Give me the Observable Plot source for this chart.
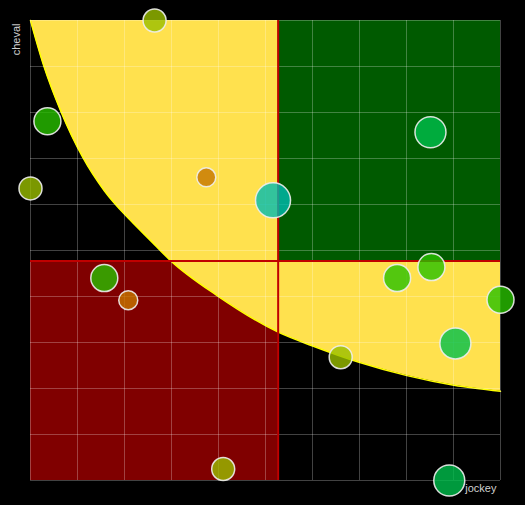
<!DOCTYPE html>
<html><head><meta charset="utf-8">
<script src="https://cdn.jsdelivr.net/npm/d3@7"></script>
<script src="https://cdn.jsdelivr.net/npm/@observablehq/plot@0.6"></script>
<style>html,body{margin:0;padding:0;background:#000;}</style>
</head><body><div id="chart"></div>
<script>
// Points: jockey score (x), cheval score (y), niveau (colour + size)
const jockey = [26.4, 3.6, 0, 37.4, 51.6, 85.1, 15.7, 20.8, 78.0, 85.3, 100, 90.4, 66.0, 41.0, 89.1];
const cheval = [100, 78.1, 63.5, 65.9, 60.9, 75.7, 44.0, 39.2, 44.0, 46.4, 39.3, 29.8, 26.8, 2.5, 0];
const niveau = [2, 3, 2, 1, 5, 4, 3, 1, 3, 3, 3, 4, 2, 2, 4];
const niveaux = [1, 2, 3, 4, 5];
// Frontier curve
const courbeX = [0, 2.8, 6.4, 11.1, 15.7, 21.3, 25.5, 29.8, 39.7, 52.8, 59.9, 69.9, 80.1, 90.1, 100];
const courbeY = [100, 90.2, 80.4, 70.3, 63.0, 56.5, 52.2, 47.8, 40.2, 32.2, 29.3, 25.7, 22.8, 20.7, 19.4];
const graduations = [0, 10, 20, 30, 40, 50, 60, 70, 80, 90, 100];
const labelX = "jockey";
const labelY = "cheval";

const points = jockey.map((x, i) => ({x, y: cheval[i], n: niveau[i]}));
const courbe = courbeX.map((x, i) => ({x, y: courbeY[i]}));
const mx = d3.mean(jockey);
const my = d3.mean(cheval);

const chart = Plot.plot({
  width: 525, height: 505,
  marginLeft: 30, marginRight: 25, marginTop: 20, marginBottom: 25,
  style: {background: "#000", fontFamily: "'Liberation Sans', Arial, sans-serif"},
  x: {domain: [0, 100], axis: null},
  y: {domain: [0, 100], axis: null},
  r: {type: "linear", domain: [1, 5], range: [9.5, 17.5]},
  color: {type: "ordinal", domain: niveaux, range: ["#c67600", "#9abe00", "#28c000", "#00bf4c", "#00bcb0"]},
  marks: [
    Plot.rect([0], {x1: () => 0, x2: () => mx, y1: () => 0, y2: () => my, fill: "#800000"}),
    Plot.areaY(courbe, {x: "x", y1: "y", y2: () => 100, fill: "#ffe14e", curve: "monotone-x"}),
    Plot.line(courbe, {x: "x", y: "y", stroke: "#ffff00", strokeWidth: 1.5, curve: "monotone-x"}),
    Plot.rect([0], {x1: () => mx, x2: () => 100, y1: () => my, y2: () => 100, fill: "#005a00"}),
    Plot.gridX(graduations, {stroke: "#fff", strokeOpacity: 0.26, strokeWidth: 1}),
    Plot.gridY(graduations, {stroke: "#fff", strokeOpacity: 0.26, strokeWidth: 1}),
    Plot.ruleX([mx], {stroke: "#c00000", strokeWidth: 2}),
    Plot.ruleY([my], {stroke: "#c00000", strokeWidth: 2}),
    Plot.dot(points, {x: "x", y: "y", r: "n", fill: "n", fillOpacity: 0.8, stroke: "#eeeeee", strokeOpacity: 0.9, strokeWidth: 1.5}),
    Plot.text([labelX], {frameAnchor: "bottom-right", textAnchor: "end", dx: -4, dy: 11, fill: "#d0d0d0", fontSize: 11}),
    Plot.text([labelY], {frameAnchor: "top-left", textAnchor: "end", rotate: -90, dx: -18.5, dy: 3, fill: "#d0d0d0", fontSize: 11})
  ]
});
document.getElementById("chart").appendChild(chart);
</script>
</body></html>
